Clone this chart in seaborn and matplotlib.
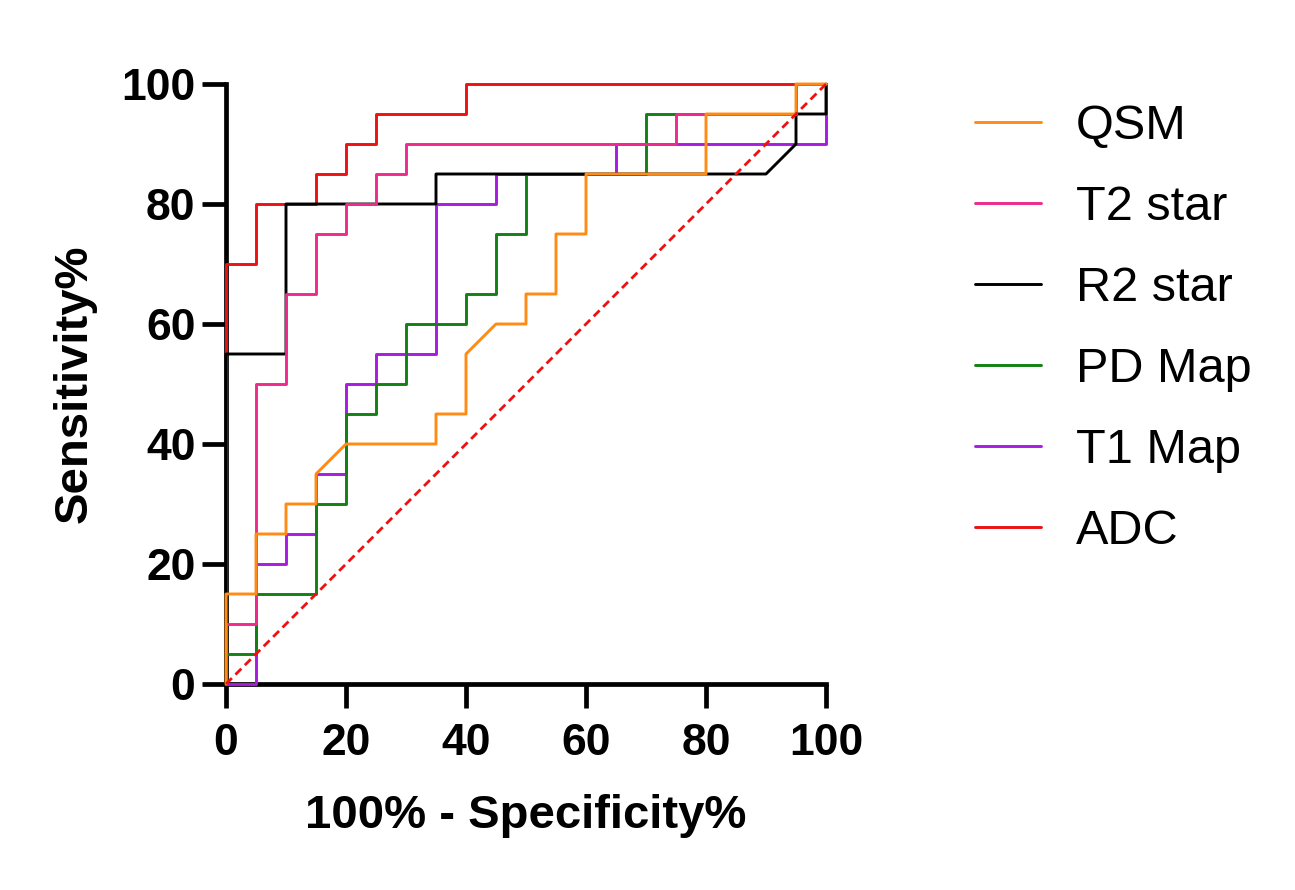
import matplotlib
matplotlib.use("Agg")
import matplotlib.pyplot as plt
import seaborn as sns
import pandas as pd
from matplotlib.lines import Line2D

# ---- data (100% - specificity %, sensitivity %) ----
qsm_x = [0, 0, 5, 5, 10, 10, 15, 15, 20, 35, 35, 40, 40, 45, 50, 50, 55, 55, 60, 60, 80, 80, 95, 95, 100]
qsm_y = [0, 15, 15, 25, 25, 30, 30, 35, 40, 40, 45, 45, 55, 60, 60, 65, 65, 75, 75, 85, 85, 95, 95, 100, 100]

t2_x = [0, 0, 5, 5, 10, 10, 15, 15, 20, 20, 25, 25, 30, 30, 75, 75, 80, 95, 95, 100]
t2_y = [0, 10, 10, 50, 50, 65, 65, 75, 75, 80, 80, 85, 85, 90, 90, 95, 95, 95, 100, 100]

r2_x = [0, 0, 10, 10, 35, 35, 90, 95, 95, 100, 100]
r2_y = [0, 55, 55, 80, 80, 85, 85, 90, 95, 95, 100]

pd_x = [0, 0, 5, 5, 15, 15, 20, 20, 25, 25, 30, 30, 40, 40, 45, 45, 50, 50, 70, 70, 95, 95, 100]
pd_y = [0, 5, 5, 15, 15, 30, 30, 45, 45, 50, 50, 60, 60, 65, 65, 75, 75, 85, 85, 95, 95, 100, 100]

t1_x = [0, 5, 5, 10, 10, 15, 15, 20, 20, 25, 25, 35, 35, 45, 45, 65, 65, 100, 100]
t1_y = [0, 0, 20, 20, 25, 25, 35, 35, 50, 50, 55, 55, 80, 80, 85, 85, 90, 90, 100]

adc_x = [0, 0, 5, 5, 15, 15, 20, 20, 25, 25, 40, 40, 100]
adc_y = [0, 70, 70, 80, 80, 85, 85, 90, 90, 95, 95, 100, 100]

ref_x = [0, 100]
ref_y = [0, 100]

labels = ["QSM", "T2 star", "R2 star", "PD Map", "T1 Map", "ADC"]
series_x = [qsm_x, t2_x, r2_x, pd_x, t1_x, adc_x]
series_y = [qsm_y, t2_y, r2_y, pd_y, t1_y, adc_y]
colors = ["#FF8A14", "#EE2A8C", "#000000", "#138013", "#A81CE0", "#EE1111"]

ticks = [0, 20, 40, 60, 80, 100]

# ---- style ----
sns.set_theme(style="ticks")
plt.rcParams["font.family"] = ["Liberation Sans", "DejaVu Sans"]
plt.rcParams["text.color"] = "black"
plt.rcParams["axes.labelcolor"] = "black"
plt.rcParams["xtick.color"] = "black"
plt.rcParams["ytick.color"] = "black"
plt.rcParams["xtick.labelcolor"] = "black"
plt.rcParams["ytick.labelcolor"] = "black"

fig = plt.figure(figsize=(12.95, 8.9), dpi=100)
ax = fig.add_axes([226 / 1295, 1 - 684 / 890, 600 / 1295, 600 / 890])

lw = 2.1
# draw in reverse legend order (ADC at bottom, QSM on top)
for i in reversed(range(len(labels))):
    df = pd.DataFrame({"x": series_x[i], "y": series_y[i]})
    sns.lineplot(data=df, x="x", y="y", sort=False, estimator=None, ax=ax,
                 color=colors[i], linewidth=lw, clip_on=False, zorder=3 + (len(labels) - i) * 0.01)

ref_df = pd.DataFrame({"x": ref_x, "y": ref_y})
sns.lineplot(data=ref_df, x="x", y="y", sort=False, estimator=None, ax=ax,
             color="#EE1111", linewidth=2.0, linestyle=(0, (3.0, 1.8)), clip_on=False, zorder=4)

ax.set_xlim(0, 100)
ax.set_ylim(0, 100)
ax.set_xticks(ticks)
ax.set_yticks(ticks)
ax.set_xticklabels([str(t) for t in ticks], fontsize=32, fontweight="bold", color="black")
ax.set_yticklabels([str(t) for t in ticks], fontsize=32, fontweight="bold", color="black")
ax.tick_params(axis="both", direction="out", length=17, width=3.4, color="black")
ax.tick_params(axis="x", pad=11)
ax.tick_params(axis="y", pad=5)

for side in ["top", "right"]:
    ax.spines[side].set_visible(False)
for side in ["left", "bottom"]:
    ax.spines[side].set_linewidth(3.4)
    ax.spines[side].set_color("black")

ax.set_xlabel("100% - Specificity%", fontsize=34, fontweight="bold", labelpad=22, color="black")
ax.set_ylabel("Sensitivity%", fontsize=34, fontweight="bold", labelpad=18, color="black")

handles = [Line2D([0], [0], color=c, lw=lw) for c in colors]
fig.legend(handles, labels, loc="upper left", bbox_to_anchor=(975 / 1295, 1 - 104 / 890),
           frameon=False, fontsize=35, handlelength=1.35, handletextpad=0.72,
           labelspacing=0.74, borderpad=0, borderaxespad=0)

fig.savefig("out.png", dpi=100)
